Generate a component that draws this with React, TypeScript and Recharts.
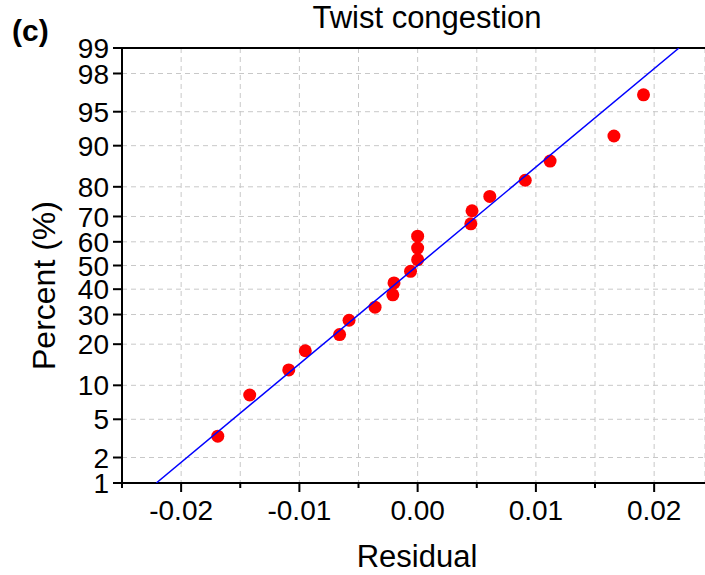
import { ScatterChart, Scatter, XAxis, YAxis, CartesianGrid, ReferenceLine } from 'recharts';

// residuals, sorted ascending
const residuals = [-0.0169, -0.0142, -0.0109, -0.0095, -0.0066, -0.0058, -0.0036, -0.0021, -0.002, -0.0006,
    0.0, 0.0, 0.0, 0.0045, 0.0046, 0.0061, 0.0091, 0.0112, 0.0166, 0.0191];
// cumulative percent of each point
const percents = [3.4, 8.3, 13.2, 18.1, 23.0, 27.9, 32.8, 37.7, 42.6, 47.5,
    52.5, 57.4, 62.3, 67.2, 72.1, 77.0, 81.9, 86.8, 91.7, 96.6];

// fitted normal line, end points at 1% and 99%
const fitResiduals = [-0.0221, 0.0221];
const fitPercents = [1, 99];

const percentTicks = [1, 2, 5, 10, 20, 30, 40, 50, 60, 70, 80, 90, 95, 98, 99];
const residualTicks = [-0.025, -0.02, -0.015, -0.01, -0.005, 0, 0.005, 0.01, 0.015, 0.02];
const residualLabels = ['', '-0.02', '', '-0.01', '', '0.00', '', '0.01', '', '0.02'];

const FONT = '"Liberation Sans", Arial, sans-serif';

// inverse of the standard normal cdf (Acklam), used as the probability scale
function probit(p: number) {
    const a = [-39.69683028665376, 220.9460984245205, -275.9285104469687, 138.357751867269, -30.66479806614716, 2.506628277459239];
    const b = [-54.47609879822406, 161.5858368580409, -155.6989798598866, 66.80131188771972, -13.28068155288572];
    const c = [-0.007784894002430293, -0.3223964580411365, -2.400758277161838, -2.549732539343734, 4.374664141464968, 2.938163982698783];
    const d = [0.007784695709041462, 0.3224671290700398, 2.445134137142996, 3.754408661907416];
    const lo = 0.02425;
    if (p < lo) {
        const q = Math.sqrt(-2 * Math.log(p));
        return (((((c[0] * q + c[1]) * q + c[2]) * q + c[3]) * q + c[4]) * q + c[5]) / ((((d[0] * q + d[1]) * q + d[2]) * q + d[3]) * q + 1);
    }
    if (p > 1 - lo) {
        const q = Math.sqrt(-2 * Math.log(1 - p));
        return -(((((c[0] * q + c[1]) * q + c[2]) * q + c[3]) * q + c[4]) * q + c[5]) / ((((d[0] * q + d[1]) * q + d[2]) * q + d[3]) * q + 1);
    }
    const q = p - 0.5;
    const r = q * q;
    return (((((a[0] * r + a[1]) * r + a[2]) * r + a[3]) * r + a[4]) * r + a[5]) * q / (((((b[0] * r + b[1]) * r + b[2]) * r + b[3]) * r + b[4]) * r + 1);
}

const zOf = (pct: number) => probit(pct / 100);

const points = residuals.map((r, i) => ({ x: r, y: zOf(percents[i]) }));
const fitLine = fitResiduals.map((r, i) => ({ x: r, y: zOf(fitPercents[i]) }));
const yTicks = percentTicks.map(zOf);
const zMin = zOf(1);
const zMax = zOf(99);

function XTick(props: any) {
    const { x, y, index } = props;
    const label = residualLabels[index];
    const major = label !== '';
    return (
        <g>
            <line x1={x} x2={x} y1={y} y2={y + (major ? 9 : 5)} stroke="#000" strokeWidth={2} />
            {major && (
                <text x={x} y={y + 37} textAnchor="middle" fontSize={28} fontFamily={FONT} fill="#000">
                    {label}
                </text>
            )}
        </g>
    );
}

function YTick(props: any) {
    const { x, y, index } = props;
    return (
        <g>
            <line x1={x - 9} x2={x} y1={y} y2={y} stroke="#000" strokeWidth={2} />
            <text x={x - 13} y={y} dy="0.36em" textAnchor="end" fontSize={28} fontFamily={FONT} fill="#000">
                {percentTicks[index]}
            </text>
        </g>
    );
}

export default function App() {
    return (
        <div style={{ position: 'absolute', left: 0, top: 0, width: 705, height: 575, background: '#fff' }}>
            <ScatterChart width={705} height={575} margin={{ top: 48, right: 0, bottom: 0, left: 0 }}>
                <CartesianGrid stroke="#c8c8c8" strokeDasharray="5 4" />
                <XAxis
                    type="number"
                    dataKey="x"
                    domain={[-0.025, 0.0243]}
                    ticks={residualTicks}
                    allowDataOverflow
                    height={92}
                    tickSize={0}
                    tickMargin={0}
                    tickLine={false}
                    axisLine={{ stroke: '#000', strokeWidth: 2 }}
                    tick={<XTick />}
                    interval={0}
                />
                <YAxis
                    type="number"
                    dataKey="y"
                    domain={[zMin, zMax]}
                    ticks={yTicks}
                    allowDataOverflow
                    width={122}
                    tickSize={0}
                    tickMargin={0}
                    tickLine={false}
                    axisLine={{ stroke: '#000', strokeWidth: 2 }}
                    tick={<YTick />}
                    interval={0}
                />
                <ReferenceLine y={zMax} stroke="#000" strokeWidth={2} />
                <Scatter
                    data={points}
                    isAnimationActive={false}
                    shape={(p: any) => <circle cx={p.cx} cy={p.cy} r={6.5} fill="#ff0000" />}
                />
                <Scatter
                    data={fitLine}
                    isAnimationActive={false}
                    line={{ stroke: '#0000ff', strokeWidth: 1.5 }}
                    shape={() => <g />}
                />
            </ScatterChart>
            <svg width={705} height={575} style={{ position: 'absolute', left: 0, top: 0, pointerEvents: 'none' }}>
                <text x={12} y={41} fontSize={30} fontWeight="bold" fontFamily={FONT}>(c)</text>
                <text x={427} y={28} fontSize={31} textAnchor="middle" fontFamily={FONT}>Twist congestion</text>
                <text x={417} y={567} fontSize={31} textAnchor="middle" fontFamily={FONT}>Residual</text>
                <text transform="translate(55,285.5) rotate(-90)" fontSize={32} textAnchor="middle" fontFamily={FONT}>
                    Percent (%)
                </text>
            </svg>
        </div>
    );
}
